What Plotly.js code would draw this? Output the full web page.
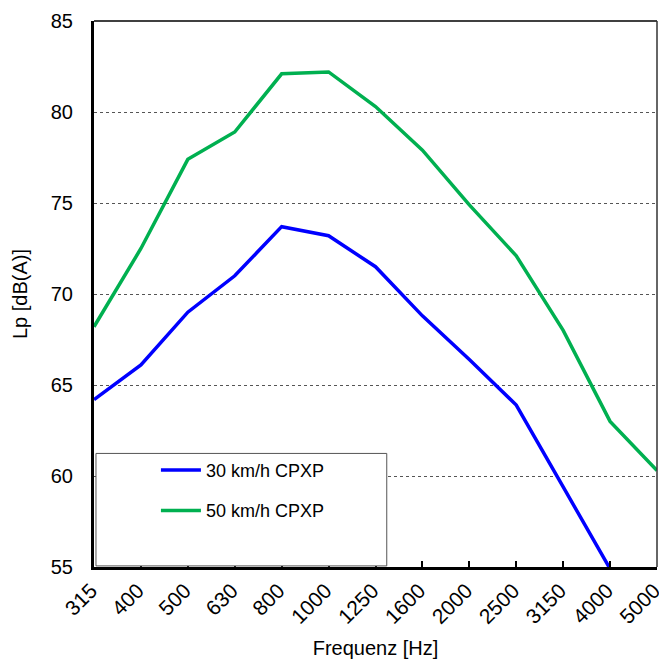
<!DOCTYPE html>
<html>
<head>
<meta charset="utf-8">
<script src="https://cdn.plot.ly/plotly-3.0.1.min.js"></script>
<style>
  html, body { margin: 0; padding: 0; background: #fff; }
  #chart { width: 659px; height: 666px; }
</style>
</head>
<body>
<div id="chart"></div>
<script>
// Third-octave band centre frequencies
const frequencies = ['315', '400', '500', '630', '800', '1000', '1250', '1600', '2000', '2500', '3150', '4000', '5000'];

// Sound pressure level per band, dB(A)
const lp30 = [64.2, 66.1, 69.0, 71.0, 73.7, 73.2, 71.5, 68.8, 66.4, 63.9, 59.4, 54.9, null];
const lp50 = [68.2, 72.5, 77.4, 78.9, 82.1, 82.2, 80.3, 77.9, 74.9, 72.1, 68.0, 63.0, 60.3];

const seriesNames = ['30 km/h CPXP', '50 km/h CPXP'];
const yTicks = [55, 60, 65, 70, 75, 80, 85];

const fam = 'Liberation Sans, Arial, sans-serif';
const f = (size) => ({ family: fam, size: size, color: '#000' });

const traces = [
  {
    x: frequencies, y: lp30, name: seriesNames[0], legendgroup: 'a',
    type: 'scatter', mode: 'lines', line: { color: '#0000ff', width: 3.5 }
  },
  {
    x: frequencies, y: lp50, name: seriesNames[1], legendgroup: 'b',
    type: 'scatter', mode: 'lines', line: { color: '#00b050', width: 3.5 }
  }
];

const layout = {
  width: 659, height: 666,
  margin: { l: 94, r: 2, t: 21, b: 99 },
  paper_bgcolor: '#fff', plot_bgcolor: '#fff',
  font: f(18),
  showlegend: true,
  legend: {
    x: 0.11, y: 0.211, xanchor: 'left', yanchor: 'top',
    bgcolor: 'rgba(0,0,0,0)', borderwidth: 0,
    font: f(18), tracegroupgap: 14, itemwidth: 40
  },
  xaxis: {
    type: 'category', range: [0, 12], fixedrange: true,
    showline: true, linecolor: '#000', linewidth: 3,
    ticks: 'inside', ticklen: 6, tickwidth: 2, tickcolor: '#000',
    tickangle: -45, tickfont: f(21), ticklabelshift: -3, ticklabelstandoff: 0,
    showgrid: false, zeroline: false,
    title: { text: 'Frequenz [Hz]', font: f(20), standoff: 15 }
  },
  yaxis: {
    range: [55, 85], tickvals: yTicks, fixedrange: true,
    showline: true, linecolor: '#000', linewidth: 3,
    ticks: '', tickfont: f(20), ticklabelstandoff: 14,
    showgrid: true, gridcolor: '#555', gridwidth: 1, griddash: 'dot',
    zeroline: false,
    title: { text: 'Lp [dB(A)]', font: f(20), standoff: 18 }
  },
  shapes: [
    // thin frame on the top and right edges
    { type: 'line', xref: 'paper', yref: 'paper', x0: 0, x1: 1, y0: 1, y1: 1,
      line: { color: '#000', width: 1.5 } },
    { type: 'line', xref: 'paper', yref: 'paper', x0: 1, x1: 1, y0: 0, y1: 1,
      line: { color: '#333', width: 1.5 } },
    // legend box
    { type: 'rect', xref: 'paper', yref: 'paper', layer: 'above',
      x0: 0.0035, x1: 0.52, y0: 0.002, y1: 0.208,
      fillcolor: '#fff', line: { color: '#555', width: 1 } }
  ]
};

Plotly.newPlot('chart', traces, layout, { displayModeBar: false, staticPlot: true });
</script>
</body>
</html>
